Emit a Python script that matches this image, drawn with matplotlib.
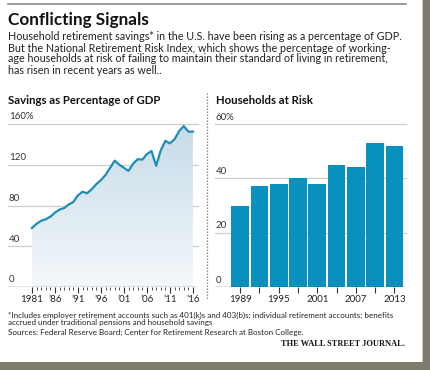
import numpy as np
import matplotlib
matplotlib.use("Agg")
import matplotlib.pyplot as plt
from matplotlib.colors import LinearSegmentedColormap
from matplotlib.patches import Rectangle

# --- data ---
save_years = list(range(1981, 2017))
save_pct = [58, 62, 65, 66.5, 69, 73, 76, 77.5, 81, 83.5,
            90, 93.5, 92, 96, 101, 105, 110, 117, 124, 120,
            117, 114, 121, 125.5, 125, 130.5, 133.5, 119, 134, 143.5,
            141, 145, 153, 158, 152.5, 152.5]
save_ticks = [1981, 1986, 1991, 1996, 2001, 2006, 2011, 2016]
save_ticklabels = ["1981", "\u201986", "\u201991", "\u201996", "\u201901",
                   "\u201906", "\u201911", "\u201916"]
save_yticks = [0, 40, 80, 120, 160]
save_ylabels = ["0", "40", "80", "120", "160%"]

risk_years = [1989, 1992, 1995, 1998, 2001, 2004, 2007, 2010, 2013]
risk_pct = [30, 37, 38, 40, 38, 45, 44, 53, 52]
risk_ticks = [1989, 1995, 2001, 2007, 2013]
risk_yticks = [0, 20, 40, 60]
risk_ylabels = ["0", "20", "40", "60%"]

W, H = 430, 370
LINE = "#1f8db5"
BAR = "#0891be"
GRID = "#cfcfcf"
FONT = "Lato"

fig = plt.figure(figsize=(W / 100, H / 100), dpi=100)
fig.patch.set_facecolor("white")


def box(x0, y0, x1, y1):
    # pixel box (top-left origin) -> figure fraction rect
    return [x0 / W, 1 - y1 / H, (x1 - x0) / W, (y1 - y0) / H]


def ftext(x, y, s, **kw):
    kw.setdefault("family", FONT)
    kw.setdefault("color", "#222222")
    return fig.text(x / W, 1 - y / H, s, **kw)


# header
fig.add_artist(plt.Line2D([8 / W, 406 / W], [1 - 4 / H, 1 - 4 / H],
                          color="#8a8a8a", lw=1.2))
ftext(8, 20, "Conflicting Signals", fontsize=12.3, weight="bold",
      va="center", color="#111111")
body = ["Household retirement savings* in the U.S. have been rising as a percentage of GDP.",
        "But the National Retirement Risk Index, which shows the percentage of working-",
        "age households at risk of failing to maintain their standard of living in retirement,",
        "has risen in recent years as well.."]
for i, line in enumerate(body):
    ftext(8, 37 + i * 11, line, fontsize=7.75, va="center")

ftext(8, 100, "Savings as Percentage of GDP", fontsize=8.2, weight="bold",
      va="center", color="#111111")
ftext(216, 100, "Households at Risk", fontsize=8.2, weight="bold",
      va="center", color="#111111")

# dotted separator
fig.add_artist(plt.Line2D([207 / W, 207 / W], [1 - 93 / H, 1 - 300 / H],
                          color="#888888", lw=0.9, ls=(0, (1.2, 1.2))))

# --- left: savings line with gradient fill ---
ax1 = fig.add_axes(box(8, 124, 198, 287))
x0, x1 = 1975.8, 2017.1
ax1.set_xlim(x0, x1)
ax1.set_ylim(0, 160)
cmap = LinearSegmentedColormap.from_list("fade", ["#f4f8fb", "#c6dbe8"])
grad = np.linspace(0, 1, 256).reshape(-1, 1)
img = ax1.imshow(grad, cmap=cmap, origin="lower", aspect="auto",
                 extent=[x0, x1, 0, 160], zorder=1)
poly = ax1.fill_between(save_years, save_pct, 0, color="none", lw=0)
img.set_clip_path(poly.get_paths()[0], transform=ax1.transData)
ax1.plot(save_years, save_pct, color=LINE, lw=1.6, zorder=3,
         solid_joinstyle="round")
for v, lab in zip(save_yticks, save_ylabels):
    if v > 0:
        ax1.axhline(v, color=GRID, lw=0.9, zorder=0.5, clip_on=False)
    ax1.text(0.005, v + 2.5, lab, transform=ax1.get_yaxis_transform(),
             ha="left", va="bottom", fontsize=7, family=FONT, color="#333333")
ax1.axhline(0, color="#333333", lw=0.9, zorder=4)
ax1.set_xticks(save_ticks)
ax1.set_xticklabels(save_ticklabels, family=FONT, fontsize=7, color="#222222")
ax1.set_xticks(save_years, minor=True)
ax1.tick_params(axis="x", which="major", length=4, width=0.8, color="#333333", pad=2)
ax1.tick_params(axis="x", which="minor", length=2.5, width=0.6, color="#333333")
ax1.set_yticks([])
for s in ax1.spines.values():
    s.set_visible(False)

# --- right: households at risk bars ---
ax2 = fig.add_axes(box(215, 124, 406, 287))
ax2.set_xlim(1985.1, 2014.8)
ax2.set_ylim(0, 60)
ax2.bar(risk_years, risk_pct, width=2.75, color=BAR, zorder=2)
for v, lab in zip(risk_yticks, risk_ylabels):
    if v > 0:
        ax2.axhline(v, color=GRID, lw=0.9, zorder=0.5, clip_on=False)
    ax2.text(0.005, v + 0.9, lab, transform=ax2.get_yaxis_transform(),
             ha="left", va="bottom", fontsize=7, family=FONT, color="#333333")
ax2.axhline(0, color="#333333", lw=0.9, zorder=4)
ax2.set_xticks(risk_ticks)
ax2.set_xticklabels([str(t) for t in risk_ticks], family=FONT, fontsize=7,
                    color="#222222")
ax2.set_xticks(risk_years, minor=True)
ax2.tick_params(axis="x", which="both", length=4, width=0.8, color="#333333", pad=2)
ax2.set_yticks([])
for s in ax2.spines.values():
    s.set_visible(False)

# footnotes
ftext(8, 315, "*Includes employer retirement accounts such as 401(k)s and 403(b)s; individual retirement accounts; benefits",
      fontsize=5.8, va="center")
ftext(8, 323, "accrued under traditional pensions and household savings",
      fontsize=5.8, va="center")
ftext(8, 332, "Sources: Federal Reserve Board; Center for Retirement Research at Boston College.",
      fontsize=5.8, va="center")
ftext(405, 344, "THE WALL STREET JOURNAL.", fontsize=6, weight="bold",
      family="Liberation Serif", ha="right", va="center", color="#111111")

# photo-frame shadow on right and bottom
fig.add_artist(Rectangle((423 / W, 0), 7 / W, 1, transform=fig.transFigure,
                         color="#7d7c6c", lw=0))
fig.add_artist(Rectangle((0, 0), 1, 8 / H, transform=fig.transFigure,
                         color="#7d7c6c", lw=0))
fig.add_artist(Rectangle((422 / W, 8 / H), 1 / W, 1, transform=fig.transFigure,
                         color="#c8c8c0", lw=0))

fig.savefig("out.png", dpi=100)
